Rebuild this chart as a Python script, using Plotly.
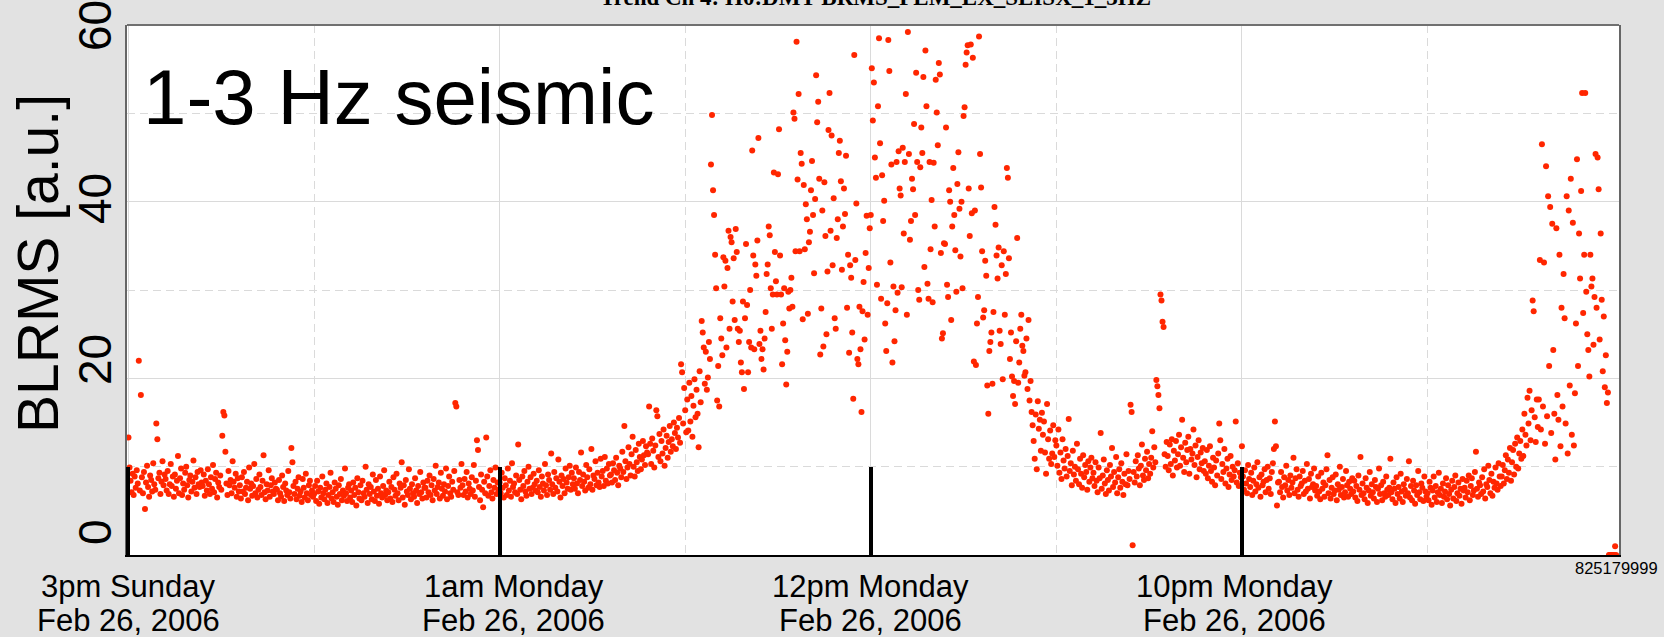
import numpy as np
import plotly.graph_objects as go

# BLRMS trend, 1-3 Hz band, one sample every 100 s (36 per hour).
SAMPLES_PER_HOUR = 36

h00 = [13.3, 9.9, 8.4, 7.1, 9.2, 6.8, 8.9, 7.6, 9.6, 8.1, 22.0, 7.3, 18.1, 8.8, 7.0, 9.4, 5.2, 8.2, 10.1, 7.7, 6.6, 9.0, 8.5, 7.2, 10.4, 8.0, 7.4, 14.9, 13.1, 8.7, 9.3, 6.9, 8.3, 10.6, 7.9, 9.1]
h01 = [8.6, 7.3, 9.5, 6.9, 8.0, 10.3, 7.8, 8.9, 6.6, 9.1, 7.5, 8.4, 11.2, 7.0, 8.7, 9.8, 6.8, 8.1, 7.4, 9.3, 10.0, 7.9, 6.5, 8.5, 9.0, 7.2, 8.3, 10.7, 7.6, 8.8, 6.9, 9.4, 8.0, 7.7, 9.6, 8.2]
h02 = [7.8, 9.1, 6.7, 8.4, 7.3, 9.7, 8.0, 6.9, 8.8, 7.5, 10.2, 7.1, 8.6, 9.3, 6.5, 8.2, 7.7, 9.0, 7.4, 13.5, 16.2, 15.8, 11.7, 8.1, 6.8, 9.5, 7.9, 8.5, 7.0, 10.6, 8.3, 7.6, 9.2, 6.6, 8.7, 7.2]
h03 = [7.9, 6.4, 8.8, 7.2, 9.4, 6.9, 7.6, 8.3, 6.2, 9.9, 7.5, 8.1, 6.7, 7.8, 10.3, 7.0, 8.6, 6.5, 7.4, 9.1, 7.7, 6.8, 8.4, 11.3, 7.1, 6.3, 8.0, 7.3, 9.6, 6.6, 7.9, 8.7, 7.2, 6.9, 8.2, 7.5]
h04 = [7.4, 6.2, 8.5, 7.0, 6.6, 9.0, 7.7, 6.1, 8.1, 7.3, 6.8, 9.5, 7.1, 6.4, 12.1, 10.5, 7.8, 6.9, 8.3, 6.3, 7.5, 8.8, 6.7, 7.2, 6.0, 8.6, 7.6, 6.5, 9.2, 7.0, 6.2, 7.9, 8.4, 6.8, 7.3, 6.6]
h05 = [6.9, 7.8, 6.1, 8.4, 7.2, 5.8, 7.6, 6.5, 8.9, 7.0, 6.3, 7.4, 8.1, 5.9, 6.8, 7.7, 9.3, 6.4, 7.1, 6.0, 8.2, 7.5, 6.6, 5.7, 7.9, 6.9, 8.6, 6.2, 7.3, 6.7, 9.8, 7.0, 6.1, 7.6, 8.0, 6.5]
h06 = [7.3, 6.0, 8.2, 6.8, 7.6, 5.6, 8.7, 7.1, 6.4, 7.9, 6.2, 8.4, 7.0, 6.6, 10.0, 7.4, 5.9, 8.0, 6.9, 7.7, 6.3, 9.1, 7.2, 6.1, 8.5, 6.7, 7.5, 5.8, 8.9, 7.0, 6.5, 7.8, 9.6, 6.8, 7.3, 6.2]
h07 = [7.1, 8.3, 6.4, 7.7, 6.0, 8.8, 7.4, 6.7, 9.2, 7.0, 6.2, 8.1, 7.6, 10.5, 6.5, 7.9, 5.7, 8.5, 7.2, 6.8, 9.7, 7.5, 6.3, 8.0, 7.0, 6.6, 8.7, 7.3, 5.9, 7.8, 6.9, 9.4, 7.1, 6.4, 8.2, 7.6]
h08 = [7.6, 6.5, 8.4, 7.1, 9.0, 6.8, 7.9, 6.2, 8.6, 7.3, 10.1, 6.9, 7.7, 8.2, 6.4, 9.3, 7.5, 6.7, 8.0, 7.2, 9.8, 6.3, 7.8, 8.9, 7.0, 6.6, 8.3, 7.4, 9.5, 17.2, 16.8, 7.1, 6.8, 8.5, 7.6, 10.3]
h09 = [7.9, 6.8, 8.6, 7.2, 9.4, 6.5, 8.1, 7.5, 6.9, 8.8, 7.3, 10.2, 6.6, 8.4, 13.0, 11.9, 7.7, 6.2, 9.1, 7.4, 5.4, 8.3, 7.0, 13.3, 8.9, 6.7, 7.8, 9.6, 7.1, 6.4, 8.5, 7.6, 9.9, 6.9, 8.2, 7.4]
h10 = [8.2, 7.0, 9.3, 7.6, 6.5, 8.7, 7.9, 6.8, 9.8, 7.3, 8.4, 6.6, 10.4, 7.7, 8.1, 7.1, 9.0, 6.9, 12.5, 8.5, 7.4, 6.3, 8.9, 7.8, 9.5, 7.2, 6.7, 8.3, 10.0, 7.5, 8.8, 6.9, 7.6, 9.2, 8.0, 7.3]
h11 = [8.4, 7.1, 9.6, 7.7, 6.6, 8.9, 8.1, 7.3, 10.3, 7.9, 6.8, 9.1, 8.5, 7.4, 11.5, 8.0, 6.9, 9.4, 7.6, 8.7, 7.2, 10.8, 8.3, 6.5, 9.0, 7.8, 8.6, 7.0, 9.8, 8.2, 7.5, 8.8, 10.1, 7.4, 9.3, 8.0]
h12 = [8.7, 7.5, 9.9, 8.1, 7.0, 9.4, 8.5, 11.6, 7.8, 9.1, 8.3, 7.3, 10.2, 8.8, 7.6, 9.7, 8.0, 12.0, 7.4, 9.0, 8.6, 10.6, 7.9, 9.3, 8.2, 7.7, 10.9, 8.9, 9.5, 7.8, 11.1, 8.4, 9.8, 8.1, 10.3, 9.0]
h13 = [9.1, 8.2, 10.4, 9.6, 8.5, 11.0, 9.3, 7.9, 10.1, 9.8, 8.8, 11.7, 9.4, 14.6, 10.6, 8.6, 9.9, 12.2, 10.3, 9.0, 11.4, 13.4, 10.0, 8.9, 11.9, 10.5, 9.5, 12.6, 11.1, 9.7, 10.8, 12.9, 11.3, 10.2, 12.3, 11.6]
h14 = [11.4, 16.8, 12.6, 10.3, 13.2, 11.8, 9.9, 12.4, 16.4, 15.7, 11.1, 13.7, 10.6, 12.9, 11.5, 14.2, 10.1, 12.1, 13.5, 11.0, 12.8, 14.6, 11.7, 13.1, 12.3, 15.0, 13.8, 12.0, 14.4, 13.3, 15.5, 12.7, 21.6, 20.7, 14.9, 18.9]
h15 = [16.4, 13.9, 17.6, 14.1, 19.5, 15.1, 18.0, 13.4, 16.9, 19.9, 15.6, 18.7, 16.0, 12.2, 20.8, 17.3, 26.5, 25.2, 23.5, 19.4, 23.0, 18.7, 20.1, 24.1, 22.2, 44.2, 49.8, 41.3, 38.5, 34.0, 30.2, 17.5, 21.4, 16.8, 26.8, 24.5]
h16 = [22.6, 33.7, 30.4, 33.3, 23.5, 32.5, 36.7, 25.6, 36.0, 35.4, 28.7, 33.6, 26.6, 36.9, 34.3, 25.6, 24.1, 25.4, 21.8, 20.7, 28.7, 18.8, 26.8, 35.2, 28.3, 20.7, 24.1, 30.0, 23.5, 45.8, 33.9, 23.3, 32.9, 31.6, 35.6, 47.2]
h17 = [23.9, 25.4, 22.2, 23.3, 21.0, 24.5, 27.5, 31.8, 32.9, 37.2, 36.2, 30.2, 25.6, 29.5, 43.3, 34.3, 31.0, 29.5, 43.1, 48.2, 33.9, 29.5, 21.6, 26.2, 30.2, 24.3, 19.3, 23.0, 29.8, 27.9, 30.0, 31.4, 28.1, 50.1, 49.4, 34.4]
h18 = [58.1, 42.5, 52.2, 34.4, 45.5, 44.3, 26.7, 41.9, 34.6, 39.7, 38.0, 27.3, 35.4, 36.6, 41.3, 44.6, 38.5, 31.9, 40.3, 54.3, 49.0, 51.3, 42.6, 22.7, 27.9, 39.0, 23.6, 42.2, 36.1, 25.0, 32.1, 48.1, 52.3, 36.7, 47.5, 32.8]
h19 = [40.4, 26.8, 25.6, 35.9, 38.0, 45.5, 46.9, 42.3, 32.3, 37.2, 41.5, 38.6, 45.2, 28.0, 34.0, 22.9, 32.8, 31.4, 25.2, 17.7, 56.6, 33.4, 39.8, 22.2, 21.6, 28.1, 23.3, 16.2, 27.6, 30.9, 24.4, 34.2, 38.4, 27.2, 32.5, 37.0]
h20 = [38.5, 55.1, 49.2, 53.5, 45.0, 42.7, 30.6, 50.8, 58.5, 46.6, 29.0, 43.0, 37.8, 40.1, 26.2, 23.1, 28.5, 58.3, 54.8, 33.1, 44.2, 21.8, 30.4, 24.2, 27.7, 44.5, 29.7, 45.7, 41.5, 40.7, 30.3, 46.1, 36.4, 44.5, 52.2, 27.2]
h21 = [59.2, 45.4, 35.7, 37.8, 42.6, 41.4, 48.8, 38.5, 54.6, 44.5, 30.0, 28.9, 43.9, 48.4, 45.5, 54.1, 32.6, 57.1, 50.8, 30.7, 29.0, 44.5, 34.6, 40.2, 28.6, 44.4, 37.2, 53.8, 50.1, 46.4, 55.7, 54.4, 34.2, 24.5, 25.1, 35.3]
h22 = [35.2, 48.4, 30.6, 29.2, 41.3, 40.0, 26.6, 37.2, 43.8, 38.5, 34.5, 29.8, 42.0, 45.6, 39.2, 33.8, 40.0, 30.2, 49.7, 50.7, 55.5, 56.9, 57.7, 41.5, 36.1, 57.8, 38.7, 56.3, 21.9, 39.0, 21.5, 26.2, 29.2, 58.7, 45.4, 41.6]
h23 = [34.4, 26.9, 27.7, 33.3, 31.6, 19.2, 16.0, 23.1, 24.1, 25.2, 19.4, 27.5, 39.4, 37.4, 33.9, 31.3, 34.8, 25.4, 23.9, 32.8, 19.9, 34.4, 27.2, 31.8, 43.8, 42.7, 33.6, 22.2, 25.2, 20.2, 18.0, 19.7, 17.1, 24.2, 35.9, 19.5]
h24 = [21.8, 25.6, 27.2, 23.7, 23.1, 20.3, 20.7, 24.5, 18.8, 26.6, 17.5, 19.7, 16.2, 14.7, 12.9, 10.9, 15.9, 9.7, 17.4, 14.3, 15.3, 11.8, 16.1, 13.6, 15.1, 11.6, 9.2, 17.1, 13.1, 10.9, 14.1, 10.3, 11.5, 14.7, 11.1, 13.0]
h25 = [12.4, 10.1, 14.2, 9.3, 11.6, 8.6, 13.1, 10.7, 9.8, 12.0, 8.9, 11.2, 15.4, 9.5, 10.4, 7.9, 11.8, 9.1, 10.0, 8.4, 12.6, 9.7, 8.0, 10.9, 9.2, 7.6, 11.3, 8.8, 10.2, 9.4, 7.4, 10.6, 8.3, 9.9, 11.0, 8.7]
h26 = [9.3, 7.8, 10.5, 8.4, 7.1, 9.9, 8.7, 13.8, 7.5, 9.0, 10.8, 8.1, 6.9, 9.6, 8.5, 7.3, 10.2, 8.9, 12.1, 7.7, 9.4, 8.2, 11.1, 7.0, 8.8, 9.7, 7.6, 10.4, 8.3, 6.8, 9.2, 8.0, 11.4, 7.9, 9.5, 8.6]
h27 = [17.0, 16.2, 1.1, 9.4, 8.2, 10.6, 8.9, 11.3, 9.8, 7.9, 10.1, 12.5, 9.0, 8.5, 10.9, 9.6, 11.7, 8.7, 10.3, 9.2, 11.0, 14.0, 9.9, 12.2, 10.5, 19.8, 19.1, 18.1, 16.6, 29.5, 28.8, 26.4, 25.8, 11.4, 10.0, 12.8]
h28 = [11.2, 9.6, 12.5, 10.3, 13.1, 9.0, 11.8, 10.7, 12.9, 9.9, 11.4, 13.6, 10.1, 12.2, 15.3, 11.0, 9.4, 12.7, 10.5, 11.9, 13.4, 9.2, 12.0, 10.8, 11.5, 14.2, 10.2, 12.4, 8.8, 11.1, 13.0, 9.7, 11.6, 10.4, 12.1, 9.5]
h29 = [10.6, 9.2, 11.9, 8.7, 10.1, 12.3, 9.5, 8.3, 11.0, 9.9, 7.9, 10.7, 9.0, 11.5, 14.9, 13.0, 8.6, 10.3, 9.4, 12.0, 8.1, 9.8, 10.9, 7.7, 9.1, 11.2, 8.5, 10.0, 8.9, 9.6, 15.1, 8.2, 10.4, 7.8, 9.3, 8.8]
h30 = [12.3, 8.9, 7.4, 9.6, 8.1, 7.0, 10.2, 8.6, 7.7, 9.3, 6.8, 8.4, 9.9, 7.2, 8.0, 10.5, 7.6, 8.8, 6.6, 9.1, 7.9, 8.3, 9.7, 7.1, 8.5, 10.0, 7.5, 8.7, 6.9, 9.4, 10.4, 12.0, 15.1, 12.3, 5.6, 8.2]
h31 = [8.3, 7.1, 9.4, 7.7, 6.5, 8.8, 7.9, 10.1, 7.3, 8.5, 6.8, 9.0, 7.6, 8.2, 11.0, 7.0, 8.7, 9.7, 7.4, 6.6, 8.9, 7.8, 8.1, 9.5, 6.9, 8.4, 7.2, 10.3, 7.5, 8.6, 6.4, 9.2, 7.7, 8.0, 9.8, 7.3]
h32 = [7.8, 6.7, 8.9, 7.2, 6.3, 9.3, 7.5, 8.2, 6.6, 7.9, 9.7, 11.3, 7.0, 8.5, 6.4, 7.6, 8.8, 6.9, 7.3, 9.1, 6.2, 8.0, 7.4, 10.0, 6.8, 7.7, 8.6, 6.5, 7.1, 9.5, 7.9, 6.6, 8.3, 7.5, 6.9, 8.7]
h33 = [7.2, 8.4, 6.5, 7.8, 6.1, 9.0, 7.4, 11.1, 6.8, 8.1, 7.0, 6.3, 8.7, 7.6, 5.9, 7.3, 9.4, 6.7, 8.0, 7.1, 6.4, 8.5, 7.7, 6.0, 7.5, 9.8, 6.9, 7.9, 6.2, 8.3, 7.0, 6.6, 8.9, 7.4, 6.8, 7.6]
h34 = [10.9, 7.1, 6.3, 8.2, 7.5, 5.9, 8.8, 6.9, 7.7, 6.4, 9.2, 7.2, 6.0, 8.0, 7.4, 6.7, 8.6, 7.0, 10.6, 6.5, 7.8, 6.2, 8.4, 7.3, 5.8, 7.9, 6.8, 9.5, 7.1, 6.3, 8.1, 7.6, 6.1, 8.9, 7.2, 6.6]
h35 = [7.0, 6.2, 8.3, 7.6, 5.7, 7.3, 8.9, 6.5, 7.8, 6.0, 7.1, 9.3, 6.8, 7.5, 5.9, 8.1, 6.6, 7.2, 8.7, 6.3, 7.9, 6.9, 5.6, 7.4, 8.4, 6.4, 7.7, 9.0, 6.1, 7.0, 8.2, 6.7, 7.5, 5.8, 8.6, 7.3]
h36 = [7.6, 6.5, 8.4, 7.1, 9.0, 6.2, 7.8, 8.7, 6.8, 7.3, 9.4, 11.7, 7.5, 6.6, 8.2, 7.9, 6.9, 8.8, 7.2, 9.7, 6.4, 8.0, 7.7, 10.1, 8.5, 7.0, 9.2, 6.7, 8.3, 7.6, 9.9, 8.1, 7.4, 10.4, 8.9, 7.8]
h37 = [8.9, 10.2, 8.1, 9.6, 11.3, 8.6, 10.8, 9.3, 12.1, 8.4, 10.5, 11.9, 9.1, 12.6, 10.0, 13.3, 9.8, 11.5, 12.9, 10.9, 14.2, 11.2, 16.0, 13.6, 12.4, 17.8, 14.9, 18.6, 13.0, 16.4, 28.8, 27.6, 15.6, 12.8, 17.6, 14.5]
h38 = [17.6, 33.4, 14.2, 46.5, 16.8, 33.1, 12.6, 44.0, 15.7, 40.6, 21.4, 39.4, 13.8, 37.5, 23.2, 16.0, 10.8, 37.0, 18.1, 15.3, 34.0, 12.3, 28.0, 16.8, 31.8, 26.8, 14.9, 40.6, 11.5, 39.0, 19.2, 42.6, 13.6, 37.6, 12.4, 18.3]
h39 = [26.2, 44.8, 21.4, 36.4, 31.3, 41.2, 52.3, 27.4, 34.0, 52.3, 29.8, 25.0, 23.2, 20.2, 34.0, 30.4, 31.3, 23.8, 29.2, 45.4, 28.0, 45.0, 41.4, 24.4, 36.4, 28.9, 20.8, 27.0, 19.0, 22.6, 17.2, 18.4, 0.0, 0.0, 0.0, 0.0, 0.0, 0.0, 1.0, 0.0]

hourly_blocks = [h00, h01, h02, h03, h04, h05, h06, h07, h08, h09,
                 h10, h11, h12, h13, h14, h15, h16, h17, h18, h19,
                 h20, h21, h22, h23, h24, h25, h26, h27, h28, h29,
                 h30, h31, h32, h33, h34, h35, h36, h37, h38, h39]

# Axis annotation text
x_tick_hours = [0, 10, 20, 30]
x_tick_times = ["3pm Sunday", "1am Monday", "12pm Monday", "10pm Monday"]
x_tick_dates = ["Feb 26, 2006", "Feb 26, 2006", "Feb 26, 2006", "Feb 26, 2006"]
y_tick_values = [0, 20, 40, 60]
title_text = "Trend Ch 4: H0:DMT-BRMS_PEM_EX_SEISX_1_3HZ"
panel_text = "1-3 Hz seismic"
y_title = "BLRMS [a.u.]"
end_gps_text = "825179999"

blrms = np.concatenate([np.asarray(b, dtype=float) for b in hourly_blocks])
hours = np.arange(blrms.size) / SAMPLES_PER_HOUR

# Page geometry (pixels)
W, H = 1664, 637
L, R, T, B = 127, 45, 25, 82
PW, PH = W - L - R, H - T - B


def px_x(p):
    return (p - L) / PW


def px_y(p):
    return (H - B - p) / PH


SANS = "Liberation Sans, Arial, Helvetica, sans-serif"
SERIF = "Liberation Serif, Times New Roman, serif"
GRID = "#dadada"

fig = go.Figure()
fig.add_trace(go.Scatter(
    x=hours, y=blrms, mode="markers",
    marker=dict(color="#ff2600", size=6, line=dict(width=0)),
    hoverinfo="x+y", showlegend=False,
))

fig.update_layout(
    width=W, height=H,
    margin=dict(l=L, r=R, t=T, b=B, pad=0, autoexpand=False),
    paper_bgcolor="#e2e2e2",
    plot_bgcolor="#ffffff",
    font=dict(family=SANS, color="#000000"),
    xaxis=dict(
        range=[-0.04, 40.16], automargin=False,
        tickmode="array", tickvals=x_tick_hours, showticklabels=False,
        ticks="inside", ticklen=88, tickwidth=4, tickcolor="#000000",
        showgrid=True, gridcolor=GRID, gridwidth=1,
        minor=dict(tickmode="array", tickvals=[5, 15, 25, 35], showgrid=True,
                   gridcolor=GRID, griddash="8px,5px", gridwidth=1, ticks=""),
        showline=True, linecolor="#000000", linewidth=2,
        zeroline=False, fixedrange=True,
    ),
    yaxis=dict(
        range=[0, 60], automargin=False,
        tickmode="array", tickvals=[20, 40], showticklabels=False, ticks="",
        showgrid=True, gridcolor=GRID, gridwidth=1,
        minor=dict(tickmode="array", tickvals=[10, 30, 50], showgrid=True,
                   gridcolor=GRID, griddash="8px,5px", gridwidth=1, ticks=""),
        showline=True, linecolor="#666666", linewidth=2, mirror=True,
        zeroline=False, fixedrange=True,
    ),
    shapes=[dict(type="line", xref="paper", yref="paper", x0=0, x1=1, y0=1, y1=1,
                 line=dict(color="#707070", width=2))],
)

# Two-line time labels under the major ticks
label_shift = [0, 14, 0, -7]
for hr, tm, dt, dx in zip(x_tick_hours, x_tick_times, x_tick_dates, label_shift):
    for txt, ypx in ((tm, 586), (dt, 620)):
        fig.add_annotation(text=txt, xref="x", yref="paper", x=hr, y=px_y(ypx),
                           xshift=dx, xanchor="center", yanchor="middle",
                           showarrow=False,
                           font=dict(family=SANS, size=31, color="#000000"))

# Rotated y tick labels, spaced slightly tighter than the grid
y_label_px = [532, 360, 199, 26]
for val, ypx in zip(y_tick_values, y_label_px):
    fig.add_annotation(text=str(val), textangle=-90, xref="paper", yref="paper",
                       x=px_x(95), y=px_y(ypx), xanchor="center", yanchor="middle",
                       showarrow=False, font=dict(family=SANS, size=46, color="#000000"))

fig.add_annotation(text=y_title, textangle=-90, xref="paper", yref="paper",
                   x=px_x(38), y=px_y(264), xanchor="center", yanchor="middle",
                   showarrow=False, font=dict(family=SANS, size=57, color="#000000"))

fig.add_annotation(text=panel_text, xref="paper", yref="paper",
                   x=px_x(141), y=px_y(97), xanchor="left", yanchor="middle",
                   showarrow=False, font=dict(family=SANS, size=78, color="#000000"))

fig.add_annotation(text="<b>" + title_text + "</b>", xref="paper", yref="paper",
                   x=px_x(875), y=px_y(12), xanchor="center", yanchor="bottom",
                   showarrow=False, font=dict(family=SERIF, size=23, color="#000000"))

fig.add_annotation(text=end_gps_text, xref="paper", yref="paper",
                   x=px_x(1660), y=px_y(568), xanchor="right", yanchor="middle",
                   showarrow=False, font=dict(family=SANS, size=16.5, color="#000000"))

fig.write_html("out.html")
